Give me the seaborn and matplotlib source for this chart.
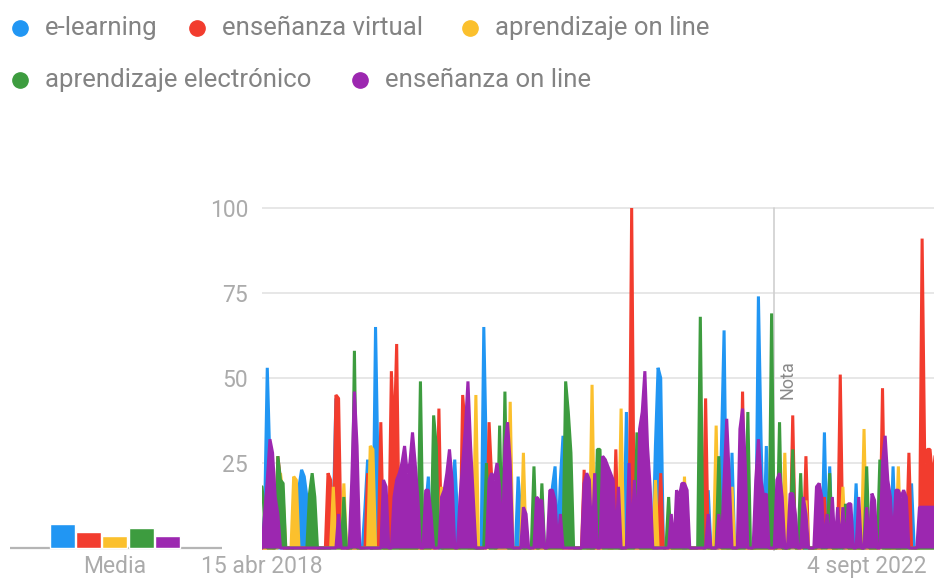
import pandas as pd
import seaborn as sns
import matplotlib.pyplot as plt
from matplotlib.lines import Line2D

# ---- data (weekly, from 15 abr 2018) ----
series_names = ["e-learning", "enseñanza virtual", "aprendizaje on line",
                "aprendizaje electrónico", "enseñanza on line"]
colors = ["#2196f3", "#f23c2e", "#fbc02d", "#3d9c3f", "#9c27b0"]
start_date = "2018-04-15"

e_learning = [
    0, 10, 53, 25, 0, 0, 0, 0, 0, 0, 0, 0, 0, 12, 18, 23,
    21, 15, 0, 0, 0, 0, 0, 0, 0, 0, 0, 10, 44, 20, 0, 0,
    0, 0, 0, 0, 0, 0, 0, 12, 26, 0, 0, 65, 20, 0, 0, 0,
    0, 0, 0, 0, 0, 0, 0, 0, 0, 0, 0, 0, 0, 0, 12, 21,
    0, 0, 0, 0, 0, 0, 0, 0, 15, 26, 10, 0, 0, 0, 0, 0,
    0, 0, 0, 0, 65, 25, 0, 0, 0, 0, 0, 0, 0, 0, 0, 0,
    0, 21, 10, 0, 0, 0, 0, 0, 0, 0, 0, 0, 0, 0, 18, 24,
    0, 20, 33, 10, 0, 0, 0, 0, 0, 0, 0, 0, 0, 0, 0, 0,
    0, 0, 0, 0, 0, 0, 0, 0, 0, 0, 40, 0, 0, 0, 0, 0,
    0, 0, 0, 0, 0, 30, 53, 50, 0, 0, 0, 0, 0, 0, 0, 0,
    0, 0, 0, 0, 0, 0, 0, 0, 0, 17, 0, 0, 0, 0, 30, 64,
    0, 0, 28, 0, 0, 0, 0, 0, 0, 0, 0, 0, 74, 32, 0, 30,
    0, 0, 0, 0, 0, 0, 0, 0, 0, 0, 0, 0, 0, 0, 0, 0,
    0, 0, 0, 0, 0, 34, 0, 24, 0, 0, 0, 0, 0, 0, 0, 0,
    0, 19, 0, 0, 0, 0, 0, 0, 0, 0, 0, 0, 0, 0, 0, 24,
    0, 0, 0, 0, 0, 0, 19, 0, 0, 0, 0, 0, 0, 0, 0, 0,
]
ensenanza_virtual = [
    0, 0, 0, 0, 0, 0, 27, 20, 0, 0, 0, 0, 0, 0, 0, 0,
    0, 0, 0, 0, 0, 0, 0, 0, 0, 22, 20, 0, 45, 44, 0, 0,
    0, 0, 0, 0, 0, 0, 0, 0, 22, 0, 0, 0, 0, 37, 0, 0,
    0, 52, 30, 60, 0, 0, 0, 0, 0, 0, 0, 0, 0, 0, 0, 0,
    0, 0, 0, 41, 0, 0, 0, 0, 0, 0, 0, 0, 45, 35, 0, 0,
    0, 0, 0, 0, 0, 0, 37, 20, 0, 0, 0, 0, 0, 0, 0, 0,
    0, 0, 0, 0, 0, 0, 0, 0, 0, 0, 0, 0, 0, 0, 0, 0,
    0, 0, 0, 0, 0, 0, 0, 0, 0, 0, 23, 0, 0, 0, 0, 0,
    0, 0, 26, 0, 0, 0, 29, 0, 0, 0, 0, 0, 100, 0, 0, 0,
    0, 0, 0, 0, 0, 0, 0, 22, 0, 0, 0, 0, 0, 0, 0, 0,
    0, 0, 0, 0, 0, 0, 0, 0, 44, 0, 0, 0, 0, 0, 0, 0,
    0, 0, 0, 0, 0, 0, 46, 0, 0, 0, 0, 0, 0, 0, 0, 0,
    0, 0, 0, 0, 0, 0, 0, 0, 0, 39, 0, 0, 0, 0, 27, 0,
    0, 0, 0, 0, 0, 15, 0, 0, 0, 0, 0, 51, 0, 0, 0, 0,
    0, 0, 0, 0, 0, 0, 0, 0, 0, 0, 0, 47, 0, 0, 0, 0,
    0, 0, 0, 0, 0, 28, 0, 0, 0, 0, 91, 25, 29, 29, 20, 28,
]
aprendizaje_on_line = [
    0, 0, 0, 0, 0, 0, 0, 22, 15, 0, 0, 0, 21, 20, 0, 0,
    0, 0, 0, 0, 0, 0, 0, 0, 0, 0, 0, 18, 0, 0, 0, 19,
    0, 0, 0, 0, 0, 0, 0, 0, 0, 30, 29, 0, 0, 0, 0, 0,
    0, 0, 0, 0, 0, 0, 0, 0, 0, 0, 0, 0, 0, 0, 0, 0,
    0, 0, 0, 0, 18, 0, 0, 0, 0, 0, 0, 0, 0, 0, 0, 0,
    0, 45, 0, 0, 0, 0, 0, 0, 0, 0, 0, 0, 0, 0, 43, 0,
    0, 0, 0, 28, 0, 0, 0, 0, 0, 0, 0, 0, 0, 0, 0, 0,
    0, 0, 0, 0, 0, 0, 0, 0, 0, 0, 0, 0, 0, 48, 0, 0,
    0, 0, 0, 0, 0, 0, 0, 0, 41, 0, 0, 0, 0, 0, 0, 0,
    0, 0, 0, 0, 0, 20, 0, 0, 0, 0, 0, 0, 0, 0, 0, 0,
    21, 0, 0, 0, 0, 0, 0, 0, 0, 0, 0, 0, 36, 0, 0, 0,
    0, 0, 18, 0, 0, 0, 0, 0, 0, 0, 0, 0, 0, 0, 0, 0,
    0, 0, 0, 0, 0, 0, 28, 0, 0, 0, 0, 0, 0, 0, 14, 0,
    0, 0, 0, 0, 0, 0, 0, 0, 0, 0, 0, 0, 18, 0, 0, 0,
    0, 0, 0, 0, 35, 0, 0, 0, 0, 0, 0, 0, 0, 0, 0, 0,
    0, 24, 0, 0, 0, 0, 0, 0, 0, 0, 0, 0, 0, 0, 0, 0,
]
aprendizaje_electronico = [
    18, 10, 0, 0, 0, 0, 27, 20, 19, 0, 0, 0, 0, 0, 0, 0,
    0, 0, 16, 22, 15, 0, 0, 0, 0, 0, 0, 0, 0, 0, 0, 15,
    0, 0, 0, 58, 0, 0, 0, 0, 0, 0, 0, 0, 0, 0, 0, 0,
    0, 0, 0, 0, 0, 0, 0, 0, 0, 0, 0, 0, 49, 0, 0, 0,
    0, 39, 30, 0, 0, 0, 0, 0, 0, 0, 0, 0, 0, 0, 0, 0,
    0, 0, 0, 0, 0, 25, 0, 0, 0, 0, 36, 0, 46, 0, 0, 0,
    0, 0, 0, 0, 0, 0, 0, 24, 0, 0, 19, 0, 0, 0, 0, 0,
    0, 0, 0, 49, 40, 28, 0, 0, 0, 0, 0, 0, 0, 0, 0, 29,
    29, 0, 0, 0, 0, 0, 0, 0, 0, 0, 0, 0, 0, 0, 34, 0,
    0, 0, 0, 0, 0, 0, 0, 0, 0, 0, 15, 0, 0, 0, 0, 0,
    0, 0, 0, 0, 0, 0, 68, 0, 0, 0, 0, 0, 0, 27, 0, 0,
    0, 0, 0, 0, 0, 0, 0, 0, 40, 0, 0, 0, 0, 0, 0, 0,
    0, 69, 0, 0, 37, 0, 0, 0, 0, 29, 0, 0, 22, 0, 0, 0,
    0, 0, 0, 19, 0, 0, 0, 22, 0, 0, 0, 0, 0, 13, 0, 0,
    0, 0, 0, 0, 0, 24, 0, 0, 0, 0, 26, 0, 0, 0, 0, 0,
    0, 0, 0, 0, 0, 0, 0, 0, 0, 0, 0, 0, 0, 0, 0, 0,
]
ensenanza_on_line = [
    0, 10, 20, 32, 28, 15, 10, 0, 0, 0, 0, 0, 0, 0, 0, 0,
    0, 0, 0, 0, 0, 0, 0, 0, 0, 0, 0, 0, 0, 10, 0, 0,
    0, 0, 20, 46, 30, 0, 0, 0, 0, 0, 0, 0, 0, 0, 20, 18,
    0, 0, 15, 20, 22, 25, 30, 22, 25, 34, 25, 15, 0, 0, 17, 17,
    10, 0, 0, 0, 15, 17, 22, 29, 20, 0, 0, 15, 25, 35, 49, 30,
    15, 0, 0, 0, 0, 0, 20, 22, 20, 25, 18, 0, 30, 37, 25, 0,
    0, 0, 0, 12, 10, 0, 0, 0, 15, 14, 14, 0, 0, 17, 17, 14,
    0, 10, 0, 0, 0, 0, 0, 0, 0, 0, 19, 22, 20, 0, 22, 0,
    0, 27, 26, 24, 22, 20, 0, 18, 0, 0, 0, 25, 0, 20, 0, 35,
    40, 52, 30, 18, 0, 0, 0, 0, 0, 0, 0, 10, 0, 17, 15, 19,
    19, 17, 0, 0, 0, 0, 0, 0, 0, 10, 0, 0, 0, 10, 0, 20,
    38, 20, 0, 0, 0, 35, 41, 25, 0, 0, 0, 20, 32, 20, 15, 16,
    0, 0, 0, 20, 22, 15, 0, 0, 16, 16, 10, 0, 0, 15, 10, 0,
    0, 0, 18, 19, 15, 0, 10, 0, 15, 0, 12, 0, 12, 0, 13, 13,
    0, 0, 15, 0, 0, 12, 0, 16, 14, 0, 0, 25, 33, 20, 15, 0,
    17, 17, 15, 17, 15, 0, 0, 0, 0, 12, 12, 12, 12, 12, 12, 12,
]
media = [7.0, 4.7, 3.5, 5.9, 3.6]

tick_dates = ["2018-04-15", "2022-09-04"]
tick_labels = ["15 abr 2018", "4 sept 2022"]
note_date = "2022-01-01"
y_ticks = [25, 50, 75, 100]

# ---- style ----
sns.set_theme(style="white")
plt.rcParams["font.family"] = ["Roboto", "DejaVu Sans"]
tick_gray = "#ababab"
text_gray = "#838383"
grid_gray = "#e3e3e3"

W, H = 934, 578
fig = plt.figure(figsize=(W / 100, H / 100), dpi=100)

def fx(px):
    return px / W

def fy(py):
    return 1 - py / H

ax_bottom, ax_top = 551, 200
ylim = (-0.88, 102.35)

# media panel first, so the main axes' tick labels are drawn over it
ax_m = fig.add_axes([fx(10), fy(ax_bottom), fx(212), (ax_bottom - ax_top) / H])
ax = fig.add_axes([fx(262), fy(ax_bottom), fx(W - 262), (ax_bottom - ax_top) / H])
ax_m.patch.set_visible(False)
ax.patch.set_visible(False)

all_series = [e_learning, ensenanza_virtual, aprendizaje_on_line,
              aprendizaje_electronico, ensenanza_on_line]
dates = pd.date_range(start_date, periods=len(e_learning), freq="W-SUN")
df = pd.DataFrame({name: vals for name, vals in zip(series_names, all_series)}, index=dates)
df.index.name = "fecha"

for ax_ in (ax, ax_m):
    ax_.set_ylim(*ylim)
    for s in ax_.spines.values():
        s.set_visible(False)

# gridlines
for v in y_ticks:
    ax.axhline(v, color=grid_gray, lw=1.2, zorder=0)
ax.axvline(pd.Timestamp(note_date), ymin=0, ymax=(100 - ylim[0]) / (ylim[1] - ylim[0]),
           color="#cfcfcf", lw=1.2, zorder=0)

for i, (name, col) in enumerate(zip(series_names, colors)):
    z = 2 + i
    ax.fill_between(df.index, 0, df[name], color=col, lw=0, zorder=z)
    sns.lineplot(x=df.index, y=df[name], color=col, lw=2.2, ax=ax, zorder=z,
                 solid_joinstyle="bevel")

ax.set_xlim(pd.Timestamp(start_date), pd.Timestamp(start_date) + pd.Timedelta(weeks=254.5))
ax.set_xticks([pd.Timestamp(d) for d in tick_dates])
ax.set_xticklabels(tick_labels)
ax.set_yticks(y_ticks)
ax.set_yticklabels([str(v) for v in y_ticks])
ax.set_xlabel("")
ax.set_ylabel("")
ax.tick_params(axis="both", length=0, labelsize=16.5, colors=tick_gray)
ax.tick_params(axis="y", pad=10)
ax.tick_params(axis="x", pad=3)
ax.grid(False)

fig.text(fx(787), fy(380), "Nota", rotation=90, ha="center", va="center",
         fontsize=13, color="#8a8a8a")

# ---- media panel ----
sns.barplot(x=series_names, y=media, hue=series_names, palette=colors,
            legend=False, width=0.95, saturation=1, ax=ax_m)
ax_m.axhline(0, color="#b5b5b5", lw=1.6, zorder=0)
ax_m.set_xlim(-2.0, 6.08)
ax_m.set_xticks([2])
ax_m.set_xticklabels(["Media"])
ax_m.set_yticks([])
ax_m.set_xlabel("")
ax_m.set_ylabel("")
ax_m.tick_params(axis="x", length=0, labelsize=16.5, colors=tick_gray, pad=3)

# ---- legend ----
legend_pos = [(20, 28), (197, 28), (470, 28), (20, 80), (360, 80)]
for (px, py), name, col in zip(legend_pos, series_names, colors):
    fig.add_artist(Line2D([fx(px)], [fy(py)], marker="o", markersize=11,
                          color=col, transform=fig.transFigure))
    fig.text(fx(px + 25), fy(py), name, ha="left", va="center",
             fontsize=18.5, color=text_gray)

fig.savefig("out.png", dpi=100, facecolor="white")
